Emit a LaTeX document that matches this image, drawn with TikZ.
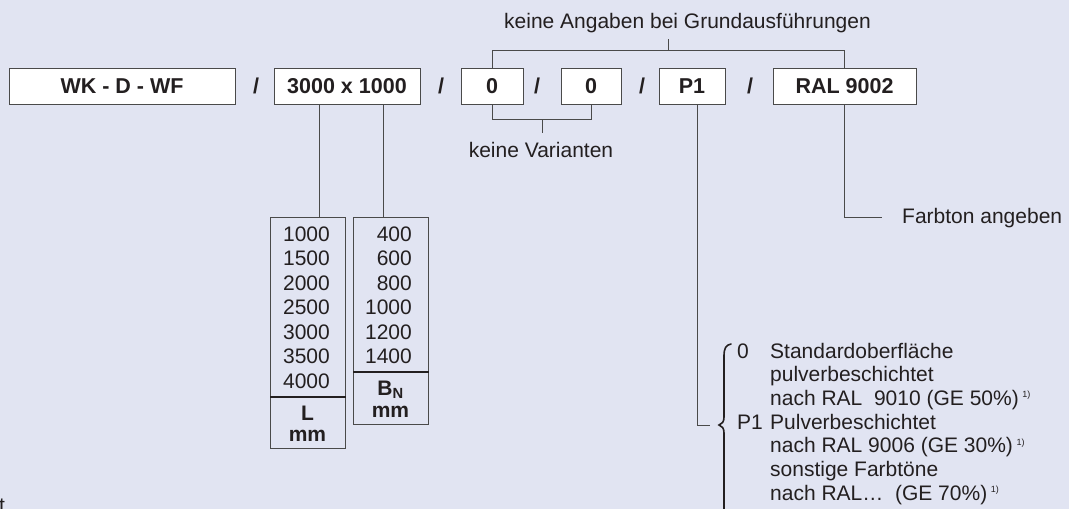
\documentclass[tikz,border=0pt]{standalone}
\usepackage{fontspec}
\setmainfont{Liberation Sans}
\usepackage{xcolor}
\usepackage{tikz}
\usetikzlibrary{calc}
\usetikzlibrary{positioning}

\definecolor{bg}{HTML}{E1E4F2}
\definecolor{ink}{HTML}{231F20}
\definecolor{wiregray}{HTML}{4A4A4A}

\tikzset{
	codebox/.style={draw=wiregray,fill=white,line width=0.9pt,minimum height=36pt,inner sep=0pt,
		font=\bfseries\fontsize{21.5}{24}\selectfont,text=ink},
	lbl/.style={inner sep=0pt,anchor=base,font=\fontsize{21}{24}\selectfont,text=ink},
	blbl/.style={lbl,font=\bfseries\fontsize{21}{24}\selectfont},
	slash/.style={inner sep=0pt,font=\bfseries\fontsize{21.5}{24}\selectfont,text=ink},
	tabbox/.style={draw=wiregray,line width=0.9pt,inner sep=0pt,anchor=north west},
	wire/.style={draw=wiregray,line width=0.9pt},
	sep/.style={draw=ink,line width=1.8pt},
	bracepen/.style={draw=ink,line width=1.6pt,line cap=round},
}
\newcommand{\fn}{\,\textsuperscript{\fontsize{9}{9}\selectfont 1)}}

\begin{document}
\begin{tikzpicture}[x=1pt,y=-1pt]
	\fill[bg] (0,0) rectangle (1069,509);
	\useasboundingbox (0,0) rectangle (1069,509);

	% Bestellschluessel
	\node[codebox,minimum width=226pt] (bez) at (122,86) {WK - D - WF};
	\node[slash] (s1) at (256,86) {/};
	\node[codebox,minimum width=146pt] (mass) at (347,86) {3000 x 1000};
	\node[slash] (s2) at (441,86) {/};
	\node[codebox,minimum width=62pt] (varA) at (492,86) {0};
	\node[slash] (s3) at (537,86) {/};
	\node[codebox,minimum width=60pt] (varB) at (591,86) {0};
	\node[slash] (s4) at (642,86) {/};
	\node[codebox,minimum width=66pt] (ober) at (692,86) {P1};
	\node[slash] (s5) at (750,86) {/};
	\node[codebox,minimum width=143pt] (ral) at (844.5,86) {RAL 9002};

	% Grundausfuehrungen
	\coordinate (gTick) at (668,50);
	\node[lbl] (grund) at (687.5,28) {keine Angaben bei Grundausführungen};
	\draw[wire] (varA.north) -- (varA.north |- gTick) -| (ral.north);
	\draw[wire] (gTick) -- ++(0,-11);

	% Varianten
	\coordinate (vTick) at (542,119);
	\node[lbl] (vari) at (541,157) {keine Varianten};
	\draw[wire] (varA.south) -- (varA.south |- vTick) -| (varB.south);
	\draw[wire] (vTick) -- ++(0,14);

	% Tabellen L und B_N
	\node[tabbox,minimum width=75pt,minimum height=231pt] (lTab) at (270,217) {};
	\node[tabbox,minimum width=75pt,minimum height=207pt] (bTab) at (353,217) {};
	\coordinate (lTop) at (319,217);
	\coordinate (bTop) at (383,217);
	\draw[wire] (mass.south -| lTop) -- (lTop);
	\draw[wire] (mass.south -| bTop) -- (bTop);
	\foreach \v [count=\i] in {1000,1500,2000,2500,3000,3500,4000}
		\node[lbl,anchor=base east] (l\i) at (330,{241+24.5*(\i-1)}) {\v};
	\foreach \v [count=\i] in {400,600,800,1000,1200,1400}
		\node[lbl,anchor=base east] (b\i) at (412,{241+24.5*(\i-1)}) {\v};
	\draw[sep] (lTab.west |- 0,397) -- (lTab.east |- 0,397);
	\draw[sep] (bTab.west |- 0,372) -- (bTab.east |- 0,372);
	\node[blbl] (lUnit) at (307.5,420) {L};
	\node[blbl] (lmm) at (307.5,441) {mm};
	\node[blbl] (bUnit) at (390.5,395) {B\textsubscript{N}};
	\node[blbl] (bmm) at (390.5,417) {mm};

	% Farbton
	\coordinate (fEnd) at (882,217);
	\node[lbl,anchor=base west] (farb) at (902,223.5) {Farbton angeben};
	\draw[wire] (ral.south) |- (fEnd);

	% Oberflaeche
	\coordinate (pKnick) at (697,425);
	\coordinate (pTip) at (710,425);
	\draw[wire] (ober.south -| pKnick) -- (pKnick) -- (pTip);
	\draw[bracepen] (731,344) .. controls (726,345) and (724,348) .. (724,356) -- (724,417)
		.. controls (724,422) and (722,424) .. (719,425)
		.. controls (722,426) and (724,428) .. (724,433) -- (724,520);
	\node[lbl,anchor=base west] (k0) at (737,358) {0};
	\node[lbl,anchor=base west] (kP) at (737,429) {P1};
	\node[lbl,anchor=base west] (e1) at (770,358) {Standardoberfläche};
	\node[lbl,anchor=base west] (e2) at (770,381.7) {pulverbeschichtet};
	\node[lbl,anchor=base west] (e3) at (770,405.3) {nach RAL\ \ 9010\ (GE 50\%)\fn};
	\node[lbl,anchor=base west] (e4) at (770,429) {Pulverbeschichtet};
	\node[lbl,anchor=base west] (e5) at (770,452.7) {nach RAL 9006 (GE 30\%)\fn};
	\node[lbl,anchor=base west] (e6) at (770,476.3) {sonstige Farbtöne};
	\node[lbl,anchor=base west] (e7) at (770,500) {nach RAL…\ \ (GE 70\%)\fn};

	\node[lbl,anchor=base west] (cut) at (-1,512) {t};
\end{tikzpicture}
\end{document}
